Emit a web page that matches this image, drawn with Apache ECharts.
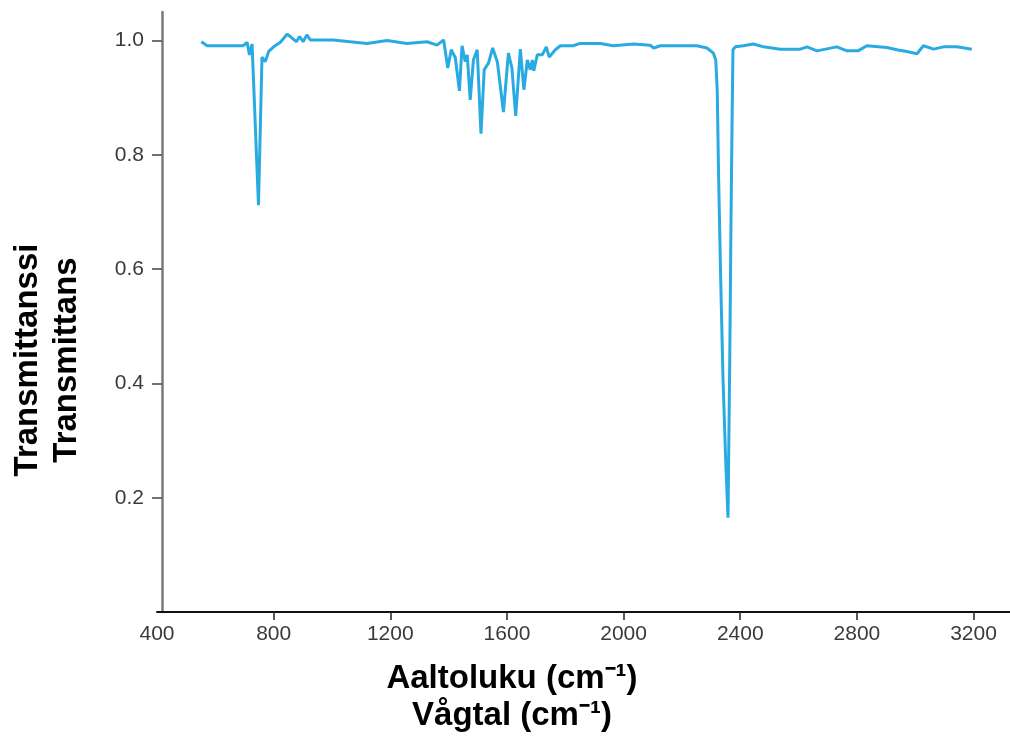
<!DOCTYPE html>
<html>
<head>
<meta charset="utf-8">
<script src="https://cdn.jsdelivr.net/npm/echarts@6/dist/echarts.min.js"></script>
<style>
html,body{margin:0;padding:0;background:#fff;}
#chart{width:1010px;height:745px;}
</style>
</head>
<body>
<div id="chart"></div>
<script>
// Wavenumber (cm-1)
const wavenumbers = [552,572,696,709,717,726,748,760,771,783,800,823,846,857,878,889,901,914,926,1004,
  1120,1189,1257,1326,1360,1383,1397,1409,1423,1437,1446,1457,1464,1474,1485,1498,1511,1522,1537,1551,
  1567,1588,1605,1617,1630,1646,1658,1670,1680,1687,1692,1704,1721,1735,1745,1766,1783,1827,1851,1920,
  1965,2034,2091,2103,2126,2251,2286,2308,2316,2321,2326,2333,2341,2350,2358,2364,2368,2372,2375,2383,
  2411,2445,2480,2537,2606,2629,2663,2731,2766,2804,2834,2903,2937,2971,3006,3028,3063,3097,3143,3194];
// Transmittance
const transmittance = [0.998,0.991,0.991,0.997,0.975,0.994,0.712,0.971,0.963,0.981,0.989,0.997,1.011,1.007,0.998,1.007,0.998,1.010,1.001,1.001,
  0.995,1.000,0.995,0.998,0.992,1.001,0.952,0.984,0.970,0.912,0.991,0.963,0.975,0.896,0.966,0.984,0.837,0.949,0.961,0.987,
  0.963,0.875,0.978,0.952,0.868,0.985,0.914,0.966,0.949,0.966,0.947,0.975,0.975,0.989,0.971,0.984,0.991,0.991,0.995,0.995,
  0.991,0.994,0.992,0.987,0.991,0.991,0.987,0.978,0.966,0.914,0.756,0.581,0.406,0.266,0.165,0.441,0.669,0.861,0.984,0.989,
  0.991,0.994,0.989,0.985,0.985,0.989,0.982,0.989,0.982,0.982,0.991,0.988,0.984,0.981,0.977,0.991,0.985,0.989,0.989,0.985];
const xTicks = [400,800,1200,1600,2000,2400,2800,3200];
const yTicks = [0.2,0.4,0.6,0.8,1.0];
const xTitle = 'Aaltoluku (cm⁻¹)\nVågtal (cm⁻¹)';
const yTitle = 'Transmittanssi\nTransmittans';

const seriesData = wavenumbers.map((w, i) => [w, transmittance[i]]);

const chart = echarts.init(document.getElementById('chart'), null, {renderer: 'canvas'});
const font = '"Liberation Sans", Arial, Helvetica, sans-serif';
chart.setOption({
  animation: false,
  backgroundColor: '#fff',
  grid: {left: 157, right: 0, top: 12, bottom: 133, containLabel: false, outerBoundsMode: 'none'},
  xAxis: {
    type: 'value', min: 400, max: 3325,
    axisLine: {show: true, lineStyle: {color: '#111', width: 2}},
    axisTick: {show: true, length: 8, customValues: xTicks.slice(1), lineStyle: {color: '#222', width: 1.5}},
    axisLabel: {show: true, customValues: xTicks, margin: 12, color: '#3a3a3a', fontSize: 21, fontFamily: font,
      formatter: v => String(Math.round(v))},
    splitLine: {show: false}
  },
  yAxis: {
    type: 'value', min: 0, max: 1.05, offset: -5,
    axisLine: {show: true, lineStyle: {color: '#7a7a7a', width: 2.5}},
    axisTick: {show: true, length: 10, customValues: yTicks, lineStyle: {color: '#444', width: 1.5}},
    axisLabel: {show: true, customValues: yTicks, margin: 18, color: '#3a3a3a', fontSize: 21, fontFamily: font,
      formatter: v => v.toFixed(1)},
    splitLine: {show: false}
  },
  graphic: [
    {type: 'text', x: 512, y: 697, style: {text: xTitle, font: 'bold 33px ' + font, fill: '#000',
      textAlign: 'center', textVerticalAlign: 'middle', lineHeight: 37}},
    {type: 'text', x: 47, y: 360, rotation: Math.PI / 2, style: {text: yTitle, font: 'bold 33px ' + font, fill: '#000',
      textAlign: 'center', textVerticalAlign: 'middle', lineHeight: 39}}
  ],
  series: [{
    type: 'line', data: seriesData, showSymbol: false, symbol: 'none', smooth: false,
    lineStyle: {color: '#29abe2', width: 3}, itemStyle: {color: '#29abe2'}
  }]
});
</script>
</body>
</html>
